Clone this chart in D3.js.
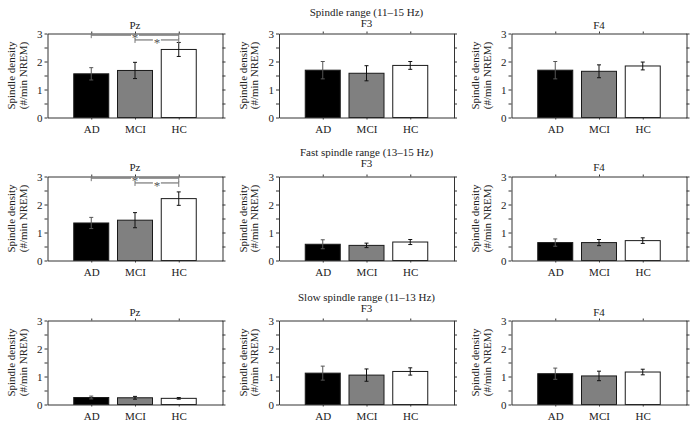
<!DOCTYPE html>
<html><head><meta charset="utf-8">
<script src="https://cdn.jsdelivr.net/npm/d3@7/dist/d3.min.js"></script>
<style>
body{margin:0;background:#fff;}
text{font-family:"Liberation Serif","Times New Roman",serif;}
</style></head>
<body><svg id="c" width="694" height="427"></svg>
<script>
// ---- data ----
const groups = ["AD", "MCI", "HC"];
const channels = ["Pz", "F3", "F4"];
const rangeTitles = ["Spindle range (11\u201315 Hz)", "Fast spindle range (13\u201315 Hz)", "Slow spindle range (11\u201313 Hz)"];
const spindleMeans = [[1.56, 1.68, 2.43], [1.69, 1.58, 1.86], [1.69, 1.65, 1.84]];
const spindleErr   = [[0.22, 0.29, 0.25], [0.31, 0.27, 0.14], [0.31, 0.23, 0.14]];
const fastMeans    = [[1.34, 1.44, 2.21], [0.58, 0.54, 0.66], [0.64, 0.64, 0.71]];
const fastErr      = [[0.20, 0.27, 0.24], [0.16, 0.08, 0.09], [0.13, 0.11, 0.10]];
const slowMeans    = [[0.25, 0.24, 0.22], [1.12, 1.05, 1.18], [1.10, 1.02, 1.16]];
const slowErr      = [[0.05, 0.05, 0.03], [0.25, 0.22, 0.13], [0.20, 0.17, 0.10]];
const yTicks = [0, 0.5, 1, 1.5, 2, 2.5, 3];
const yDomain = [0, 3];
const sigPairs = [[0, 2], [1, 2]];          // AD–HC, MCI–HC (Pz only)
const sigLevels = [2.94, 2.77];
const sigRows = [0, 1];                     // rows with significance brackets on Pz
const yLabelLines = ["Spindle density", "(#/min NREM)"];

// ---- layout ----
const svg = d3.select("#c");
const colLeft = [47.5, 279, 511.5];
const rowTop = [33.5, 176.5, 320.5];
const pw = 175, ph = 84;
const rowTitleOff = [-18, -21, -20];
const midTitleOff = [-7, -9.5, -8.5];
const sideTitleOff = [-5, -5.5, -5];
const fills = ["#000000", "#808080", "#ffffff"];
const rowMeans = [spindleMeans, fastMeans, slowMeans];
const rowErr = [spindleErr, fastErr, slowErr];
const textCol = "#222";

const x = d3.scaleLinear().domain([0, 4]).range([0, pw]);
const y = d3.scaleLinear().domain(yDomain).range([ph, 0]);
const bw = x(0.8) - x(0);

rowTop.forEach((top, r) => {
  svg.append("text").attr("x", colLeft[1] + pw / 2).attr("y", top + rowTitleOff[r])
    .attr("text-anchor", "middle").attr("font-size", 11).attr("fill", textCol).text(rangeTitles[r]);
  colLeft.forEach((left, c) => {
    const g = svg.append("g").attr("transform", `translate(${left},${top})`);
    const means = rowMeans[r][c], errs = rowErr[r][c];
    g.append("text").attr("x", pw / 2).attr("y", c === 1 ? midTitleOff[r] : sideTitleOff[r])
      .attr("text-anchor", "middle").attr("font-size", 11).attr("fill", textCol).text(channels[c]);
    // bars
    g.selectAll("rect.bar").data(means).join("rect").attr("class", "bar")
      .attr("x", (d, i) => x(i + 1) - bw / 2).attr("width", bw)
      .attr("y", d => y(d)).attr("height", d => y(0) - y(d))
      .attr("fill", (d, i) => fills[i]).attr("stroke", "#1a1a1a").attr("stroke-width", 1);
    // error bars
    const ebCol = (d, i) => i === 0 ? "#555" : "#111";
    const eb = g.selectAll("g.eb").data(means).join("g").attr("class", "eb");
    eb.append("line").attr("x1", (d, i) => x(i + 1)).attr("x2", (d, i) => x(i + 1))
      .attr("y1", (d, i) => y(d + errs[i])).attr("y2", (d, i) => y(d - errs[i]))
      .attr("stroke", ebCol).attr("stroke-width", 1);
    [1, -1].forEach(s => {
      eb.append("line").attr("x1", (d, i) => x(i + 1) - 2).attr("x2", (d, i) => x(i + 1) + 2)
        .attr("y1", (d, i) => y(d + s * errs[i])).attr("y2", (d, i) => y(d + s * errs[i]))
        .attr("stroke", ebCol).attr("stroke-width", 1);
    });
    // axes
    const fmt = d => Number.isInteger(d) ? String(d) : "";
    const axL = g.append("g").call(d3.axisLeft(y).tickValues(yTicks).tickFormat(fmt).tickSize(3).tickSizeOuter(0));
    const axR = g.append("g").attr("transform", `translate(${pw},0)`)
      .call(d3.axisRight(y).tickValues(yTicks).tickFormat("").tickSize(3).tickSizeOuter(0));
    const axT = g.append("g").call(d3.axisTop(x).tickValues([1, 2, 3]).tickFormat("").tickSize(2).tickSizeOuter(0));
    const axB = g.append("g").attr("transform", `translate(0,${ph})`)
      .call(d3.axisBottom(x).tickValues([1, 2, 3]).tickFormat((d, i) => groups[i]).tickSize(2).tickSizeOuter(0));
    [axL, axR, axT, axB].forEach(a => {
      a.select(".domain").attr("stroke", "#333");
      a.selectAll(".tick line").attr("stroke", "#333");
      a.selectAll("text").attr("font-family", "'Liberation Serif', serif").attr("font-size", 11).attr("fill", textCol);
    });
    axL.selectAll("text").attr("x", -5);
    axB.selectAll("text").attr("y", 8);
    // y label
    const yl = g.append("text").attr("transform", `translate(${-32.5},${ph / 2}) rotate(-90)`)
      .attr("text-anchor", "middle").attr("font-size", 11).attr("fill", textCol);
    yl.append("tspan").attr("x", 0).attr("dy", 0).text(yLabelLines[0]);
    yl.append("tspan").attr("x", 0).attr("dy", 11.5).text(yLabelLines[1]);
    // significance brackets
    if (c === 0 && sigRows.includes(r)) {
      sigPairs.forEach((p, k) => {
        const lv = y(sigLevels[k]);
        const x1 = x(p[0] + 1), x2 = x(p[1] + 1), xm = (x1 + x2) / 2;
        const col = "#777";
        g.append("line").attr("x1", x1).attr("x2", xm - 4).attr("y1", lv).attr("y2", lv).attr("stroke", col).attr("stroke-width", 1.2);
        g.append("line").attr("x1", xm + 4).attr("x2", x2).attr("y1", lv).attr("y2", lv).attr("stroke", col).attr("stroke-width", 1.2);
        g.append("line").attr("x1", x1).attr("x2", x1).attr("y1", lv - 1.5).attr("y2", lv + 3).attr("stroke", col);
        g.append("line").attr("x1", x2).attr("x2", x2).attr("y1", lv - 1.5).attr("y2", lv + 4).attr("stroke", col);
        g.append("text").attr("x", xm).attr("y", lv + 7).attr("text-anchor", "middle")
          .attr("font-size", 13).attr("fill", "#555").text("*");
      });
    }
  });
});
</script></body></html>
